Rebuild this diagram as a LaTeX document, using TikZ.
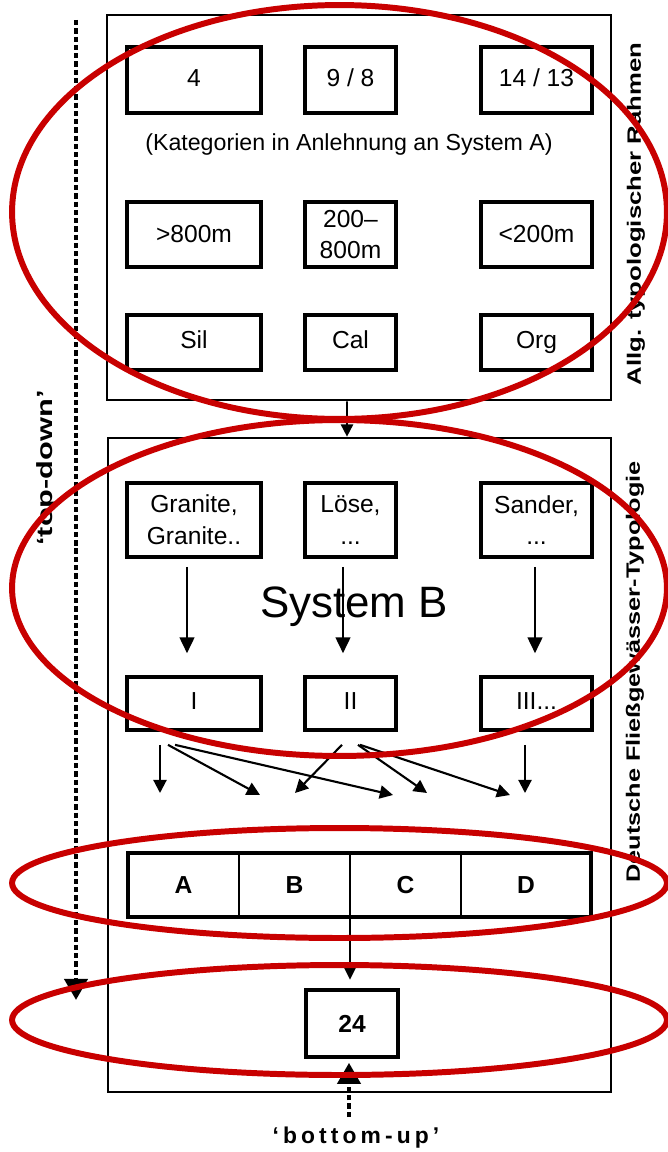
\documentclass[tikz,border=0pt]{standalone}
\usepackage{fontspec}
\setmainfont{Liberation Sans}
\usetikzlibrary{arrows.meta, calc, positioning}

\definecolor{ringred}{RGB}{200,0,0}
\newcommand{\boxfont}{\fontsize{14}{18}\selectfont}

\tikzset{
    rahmenbox/.style={draw, line width=1.6pt, inner sep=0pt},
    cat/.style={draw, line width=2.1pt, inner sep=0pt, align=center, font=\boxfont},
    onerow/.style={cat, text height=0.72em, text depth=0em},
    cell/.style={draw, line width=1pt, inner sep=0pt, outer sep=0pt, minimum height=1.28cm, font=\boxfont\bfseries},
    arr/.style={-{Triangle[length=9pt, width=8.5pt]}, line width=0.8pt},
    crossarr/.style={-{Triangle[length=7.5pt, width=7.5pt]}, line width=1.2pt},
    dotline/.style={line width=2.6pt, dash pattern=on 3pt off 1.7pt, -{Triangle[length=12pt, width=13pt]}},
    redring/.style={draw=ringred, line width=3.4pt}
}

\begin{document}
\begin{tikzpicture}[x=0.02cm, y=-0.02cm]
    \useasboundingbox (0, 0) rectangle (668, 1152);

    % the two frames
    \node[rahmenbox, minimum width=10.08cm, minimum height=7.7cm] (rahmen) at (359, 207.5) {};
    \node[rahmenbox, minimum width=10.06cm, minimum height=13.08cm] (typ) at (359.5, 765) {};

    % three columns of boxes
    \foreach \n/\cx/\w/\la/\lb/\lc/\ld/\le in {
        1/194/2.68cm/4/{>800m}/Sil/{Granite,\\Granite..}/I,
        2/350.5/1.82cm/{9 / 8}/{200--\\800m}/Cal/{Löse,\\...}/II,
        3/536.5/2.22cm/{14 / 13}/{<200m}/Org/{Sander,\\...}/{III...}} {
        \node[onerow, minimum width=\w, minimum height=1.32cm] (k\n) at (\cx, 80) {\la};
        \node[cat, minimum width=\w, minimum height=1.3cm] (h\n) at (\cx, 234.5) {\lb};
        \node[onerow, minimum width=\w, minimum height=1.1cm] (s\n) at (\cx, 342.5) {\lc};
        \node[cat, minimum width=\w, minimum height=1.48cm] (g\n) at (\cx, 520) {\ld};
        \node[onerow, minimum width=\w, minimum height=1.06cm] (r\n) at (\cx, 703.5) {\le};
    }

    \node[font=\fontsize{13.2}{15}\selectfont] (hint) at (349, 145) {(Kategorien in Anlehnung an System A)};
    \node[font=\fontsize{25}{30}\selectfont] (sysb) at (354, 607) {System B};

    \draw[arr, line width=1pt, -{Triangle[length=7pt, width=7pt]}] ([xshift=-0.24cm]rahmen.south) -- ([xshift=-0.25cm]typ.north);

    \foreach \n/\dx in {1/-7, 2/-7.5, 3/-1.5}
        \draw[arr, shorten <=0.16cm, shorten >=0.44cm] ($(g\n.south)+(\dx, 0)$) -- ($(r\n.north)+(\dx, 0)$);

    % many-to-many arrows
    \foreach \i/\x/\y in {1/160/793, 2/260/795, 3/393/795, 4/295/793, 5/427/793, 6/510/795, 7/525/793}
        \coordinate (tip\i) at (\x, \y);
    \foreach \s/\dx/\i in {r1/-34/1, r1/-26/2, r1/-19/3, r2/-8.5/4, r2/7.5/5, r2/9.5/6, r3/-11.5/7}
        \draw[crossarr] ($(\s.south)+(\dx, 13)$) -- (tip\i);

    % types A to D
    \node[cell, minimum width=2.22cm] (cA) at (183.5, 885) {A};
    \node[cell, minimum width=2.22cm, right=0pt of cA] (cB) {B};
    \node[cell, minimum width=2.22cm, right=0pt of cB] (cC) {C};
    \node[cell, minimum width=2.6cm, right=0pt of cC] (cD) {D};
    \draw[line width=2.1pt] (cA.north west) rectangle (cD.south east);

    \node[cat, line width=2.6pt, font=\boxfont\bfseries, minimum width=1.84cm, minimum height=1.34cm] (n24) at (352, 1023.5) {24};
    \draw[arr, line width=1.4pt, shorten >=0.16cm] (cB.south east) -- (cB.south east |- n24.north);

    % top-down and bottom-up
    \coordinate (td) at (76, 20);
    \coordinate (tdend) at (76, 1000);
    \draw[dotline] (td) -- (tdend);
    \node[rotate=90, font=\fontsize{12.5}{14}\selectfont\bfseries] (toplab) at (47, 468) {\scalebox{1.4}[1]{`top-down'}};

    \coordinate (bu) at (349, 1117);
    \draw[dotline, shorten >=2pt] (bu) -- (bu |- n24.south);
    \node[font=\fontsize{13}{15}\selectfont\bfseries\addfontfeature{LetterSpace=18}] (botlab) at (356, 1138) {`bottom-up'};

    % side labels
    \node[rotate=90, font=\fontsize{11}{13}\selectfont\bfseries] (lab1) at (636, 214) {\scalebox{1.33}[1]{Allg. typologischer Rahmen}};
    \node[rotate=90, font=\fontsize{11}{13}\selectfont\bfseries] (lab2) at (635, 672) {\scalebox{1.31}[1]{Deutsche Fließgewässer-Typologie}};

    % red rings
    \draw[redring] (339.5, 212) ellipse (6.55cm and 4.14cm);
    \draw[redring] (339.5, 588) ellipse (6.55cm and 3.36cm);
    \draw[redring] (339.5, 883) ellipse (6.55cm and 1.1cm);
    \draw[redring] (339.5, 1020) ellipse (6.55cm and 1.1cm);
\end{tikzpicture}
\end{document}
